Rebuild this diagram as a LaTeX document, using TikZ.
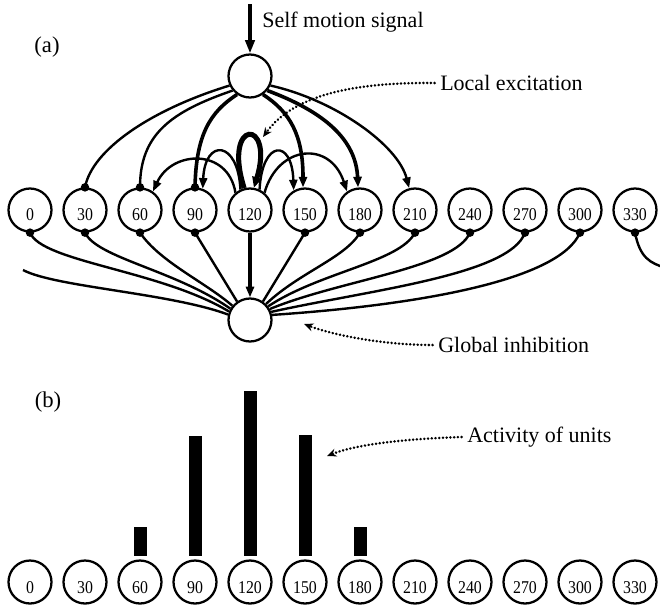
\documentclass[tikz,border=0pt]{standalone}
\usepackage{fontspec}
\setmainfont{Liberation Serif}
\newfontfamily\unitfont[FakeStretch=0.88]{Liberation Serif}
\usetikzlibrary{arrows.meta}
\begin{document}
\begin{tikzpicture}[x=0.75pt,y=-0.75pt,
  unit/.style={circle,draw,line width=1.7pt,minimum size=32.25pt,inner sep=0pt,
    font=\unitfont\fontsize{13.5}{15}\selectfont,text height=15pt,text depth=0pt},
  bunit/.style={unit,text height=16.5pt},
  hub/.style={circle,draw,line width=1.7pt,minimum size=32.25pt,inner sep=0pt},
  lbl/.style={font=\fontsize{16.5}{19}\selectfont,inner sep=0pt,anchor=west},
  panel/.style={font=\fontsize{17}{19}\selectfont,inner sep=0pt},
  conn/.style={line width=1.8pt},
  thickconn/.style={line width=2.7pt},
  tip/.style={-{Triangle[length=8pt,width=6pt]}},
  dotline/.style={line width=2pt,line cap=round,dash pattern=on 0.1pt off 2.7pt,
    -{Stealth[length=7pt,width=6pt]}},
  bar/.style={fill=black}
  ]
\useasboundingbox (0,0) rectangle (660,608);

% units, top row
\foreach \a [count=\i from 0] in {0,30,...,330}
  \node[unit] (u\i) at (30+55*\i,210) {\a};
% hubs
\node[hub] (T) at (250,76) {};
\node[hub] (B) at (250,320) {};

% texts
\node[panel] (pa) at (47,47) {(a)};
\node[panel] (pb) at (48,402) {(b)};
\node[lbl] (sms) at (262,22) {Self motion signal};
\node[lbl] (le) at (440,83) {Local excitation};
\node[lbl] (gi) at (438,345) {Global inhibition};
\node[lbl] (au) at (467,437) {Activity of units};

% free ends
\coordinate (smsrc) at (250,4);
\coordinate (letip) at (263,137);
\coordinate (gitip) at (304,324);
\coordinate (autip) at (327,456);
\coordinate (wrapin) at (23,270);
\coordinate (wrapout) at (666,268);

% self motion input
\draw[line width=2.4pt,-{Triangle[length=10pt,width=7pt]}] (smsrc) -- (T);

% hub to units
\draw[conn] (T.205) .. controls (150,110) and (92,150) .. (u1.90);
\draw[conn] (T.220) .. controls (170,112) and (140,135) .. (u2.90);
\draw[thickconn] (T.235) .. controls (210,112) and (196,135) .. (u3.90);
\draw[thickconn,tip] (T.305) .. controls (290,112) and (303,135) .. (u5.95);
\draw[thickconn,tip] (T.320) .. controls (325,112) and (356,140) .. (u6.95);
\draw[conn,tip] (T.335) .. controls (335,100) and (398,145) .. (u7.105);

% local excitation from 120
\draw[conn,tip] (u4.130) .. controls (228,148) and (172,150) .. (u2.55);
\draw[conn,tip] (u4.115) .. controls (238,140) and (205,138) .. (u3.70);
\draw[line width=3.8pt,-{Triangle[length=8pt,width=7pt]}] (u4.105) .. controls (222,118) and (275,118) .. (u4.80);
\draw[conn,tip] (u4.65) .. controls (262,140) and (292,138) .. (u5.120);
\draw[conn,tip] (u4.50) .. controls (278,145) and (330,140) .. (u6.125);

\foreach \i in {1,2,3} \fill (u\i.90) circle (3.2pt);

% global inhibition
\draw[conn] (wrapin) .. controls (55,287) and (170,293) .. (B.166);
\draw[conn] (u0.270) .. controls (42,262) and (160,270) .. (B.158);
\draw[conn] (u1.270) .. controls (97,258) and (175,270) .. (B.150);
\draw[conn] (u2.270) .. controls (160,262) and (205,282) .. (B.141);
\draw[conn] (u3.270) -- (B.125);
\draw[thickconn,tip] (u4) -- (B);
\draw[conn] (u5.270) -- (B.55);
\draw[conn] (u6.270) .. controls (345,258) and (300,272) .. (B.45);
\draw[conn] (u7.270) .. controls (400,262) and (320,272) .. (B.37);
\draw[conn] (u8.270) .. controls (455,268) and (340,280) .. (B.29);
\draw[conn] (u9.270) .. controls (510,275) and (370,290) .. (B.21);
\draw[conn] (u10.270) .. controls (560,280) and (420,305) .. (B.13);
\draw[conn] (u11.270) .. controls (640,258) and (650,263) .. (wrapout);
\foreach \i in {0,1,2,3,5,6,7,8,9,10,11} \fill (u\i.270) circle (3.2pt);

% annotations
\draw[dotline] ([xshift=-4pt]le.west) .. controls (340,82) and (290,100) .. (letip);
\draw[dotline] ([xshift=-4pt]gi.west) .. controls (380,345) and (330,334) .. (gitip);
\draw[dotline] ([xshift=-4pt]au.west) .. controls (400,439) and (355,445) .. (autip);

% panel b: activity bars
\fill[bar] (133.5,527) rectangle (146.5,556);
\fill[bar] (188.5,436) rectangle (201.5,556);
\fill[bar] (243.5,391) rectangle (256.5,556);
\fill[bar] (298.5,435) rectangle (311.5,556);
\fill[bar] (353.5,527) rectangle (366.5,556);

\foreach \a [count=\i from 0] in {0,30,...,330}
  \node[bunit] (b\i) at (30+55*\i,582) {\a};
\end{tikzpicture}
\end{document}
